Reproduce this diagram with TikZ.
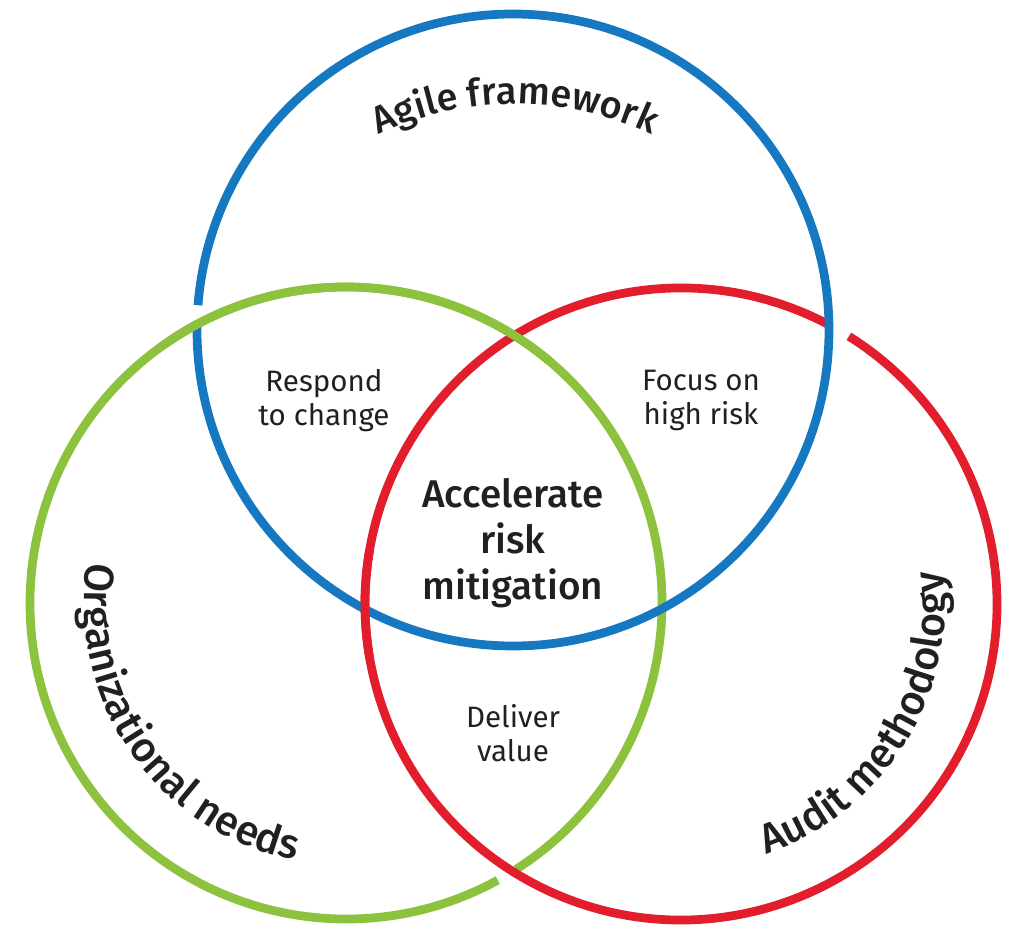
\documentclass[tikz,border=0pt]{standalone}
\usepackage{fontspec}
\setmainfont{Fira Sans}
\newfontfamily\medfont{Fira Sans Medium}
\usetikzlibrary{decorations.text}

\definecolor{agileblue}{RGB}{22,120,192}
\definecolor{auditred}{RGB}{226,30,45}
\definecolor{orggreen}{RGB}{141,194,63}
\definecolor{inkgray}{RGB}{35,31,32}

\begin{document}
\begin{tikzpicture}[x=0.025cm, y=0.025cm,
  ring/.style={line width=6.2pt},
  small/.style={align=center, text=inkgray, font=\fontsize{21}{24.2}\selectfont},
  big/.style={align=center, text=inkgray, font=\medfont\fontsize{27.5}{32.7}\selectfont},
  curved/.style 2 args={decorate, decoration={text along path, text align=center,
    text color=inkgray, text={|\medfont\fontsize{#1}{32}\selectfont|#2}}}]
  \useasboundingbox (0,0) rectangle (1014,943);
  \coordinate (B) at (513,613);
  \coordinate (G) at (346,340);
  \coordinate (R) at (681,339);

  % rings, each broken where it runs under a neighbour
  \draw[ring, orggreen] (G) ++(-57.5:316) arc[start angle=-57.5, end angle=298.7, radius=316];
  \draw[ring, auditred] (R) ++(62.5:316) arc[start angle=62.5, end angle=417.9, radius=316];
  \draw[ring, agileblue] (B) ++(178.5:316) arc[start angle=178.5, end angle=535.5, radius=316];
  % crossings that go the other way
  \draw[ring, orggreen] (G) ++(50:316) arc[start angle=50, end angle=125, radius=316];
  \draw[ring, auditred] (R) ++(170:316) arc[start angle=170, end angle=190, radius=316];

  % ring titles
  \path[curved={27}{Agile framework}] (515,520) ++(125:319) arc[start angle=125, end angle=55, radius=319];
  \path[curved={29.5}{Organizational needs}] (G) ++(165:262) arc[start angle=165, end angle=265, radius=262];
  \path[curved={29.5}{Audit methodology}] (R) ++(-82:264) arc[start angle=-82, end angle=18, radius=264];

  \node[small] (respond) at (324,542) {Respond\\to change};
  \node[small] (focus) at (701,543) {Focus on\\high risk};
  \node[small] (deliver) at (513,210) {Deliver\\value};
  \node[big] (core) at (513,400) {Accelerate\\risk\\mitigation};
\end{tikzpicture}
\end{document}
